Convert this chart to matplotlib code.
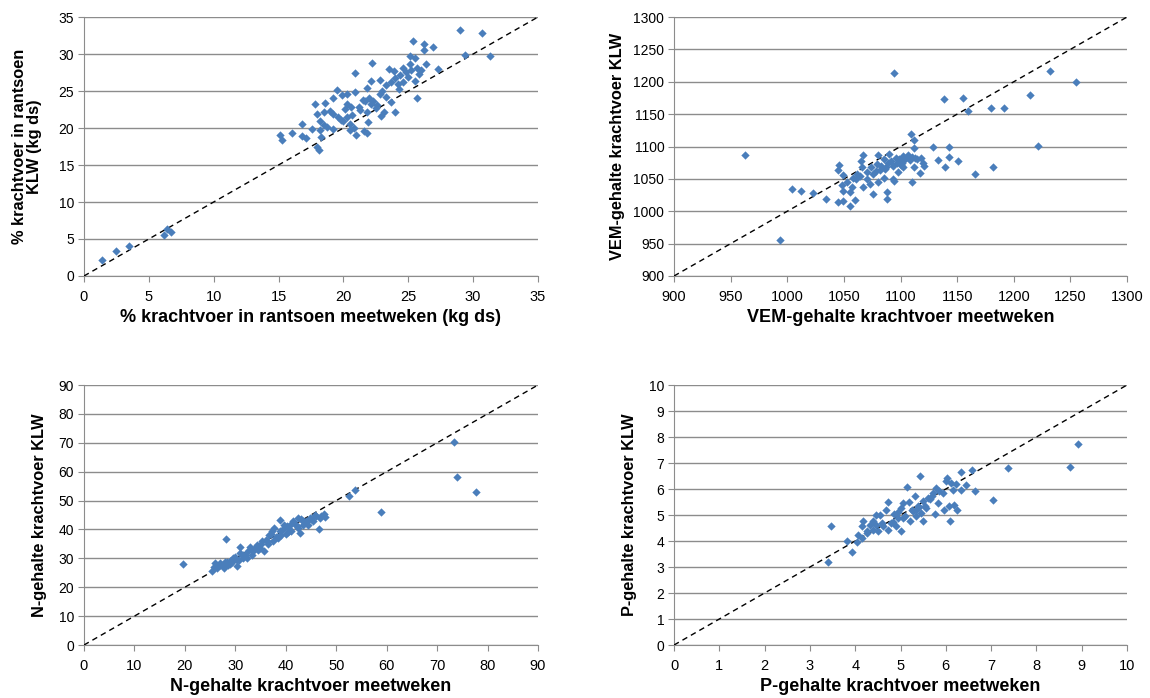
import matplotlib.pyplot as plt

plt.rcParams['font.family'] = ['Liberation Sans', 'DejaVu Sans']

# % krachtvoer in rantsoen (kg ds): meetweken vs KLW
kv_meet = [1.4, 2.5, 3.5, 6.4, 6.2, 6.7, 29.0, 30.7, 29.4, 31.3, 25.4, 26.2, 26.9, 26.2,
           27.3, 26.4, 25.1, 25.5, 25.15, 24.6, 25.7, 25.8, 25.5, 25.0, 24.4, 24.0, 24.3,
           25.7, 23.5, 23.9, 22.2, 20.9, 22.1, 22.8, 21.8, 23.3, 23.7, 22.8, 23.3, 23.7,
           23.1, 22.9, 24.0, 22.3, 22.1, 21.7, 19.5, 19.2, 19.9, 20.3, 20.9, 17.8, 18.6,
           20.3, 20.6, 21.3, 21.8, 17.95, 18.5, 18.2, 19.2, 19.6, 20.0, 20.3, 20.5, 16.8,
           17.6, 18.7, 19.2, 20.5, 20.8, 21.6, 21.8, 21.0, 16.0, 15.1, 15.3, 16.8, 17.1,
           18.3, 17.95, 18.1, 18.2, 18.5, 21.2, 22.6, 21.5, 20.1, 19.8, 22.0, 24.6, 24.8,
           23.0, 20.7, 21.9, 19.0, 22.5, 24.2, 26.0, 25.2]
kv_klw = [2.1, 3.4, 4.1, 6.4, 5.6, 5.9, 33.3, 32.9, 29.9, 29.7, 31.7, 31.3, 30.9, 30.5,
          28.0, 28.7, 29.7, 29.5, 28.7, 28.15, 28.15, 27.3, 26.4, 26.9, 27.1, 26.7, 25.3,
          24.1, 28.0, 27.7, 28.8, 27.4, 26.4, 26.55, 25.45, 25.8, 26.2, 24.6, 24.2, 23.5,
          22.2, 21.6, 22.1, 23.7, 23.3, 23.7, 25.1, 24.1, 24.4, 24.6, 24.9, 23.3, 23.4,
          23.3, 22.8, 22.4, 22.2, 21.9, 22.2, 21.0, 21.9, 21.5, 21.0, 21.5, 20.6, 20.5,
          19.8, 20.1, 19.9, 19.7, 20.05, 19.6, 19.3, 19.0, 19.3, 19.0, 18.4, 18.9, 18.6,
          18.8, 17.5, 17.0, 19.7, 20.4, 22.9, 23.1, 23.8, 22.6, 21.1, 24.0, 26.2, 27.6,
          25.0, 21.8, 20.8, 22.3, 22.7, 26.0, 27.8, 27.9]

# VEM-gehalte krachtvoer
vem_meet = [963, 994, 1094, 1232, 1255, 1214, 1138, 1155, 1160, 1180, 1191, 1221, 1182, 1166,
            1109, 1112, 1129, 1143, 1143, 1151, 1133, 1139, 1121, 1117, 1112, 1113, 1112,
            1118, 1110, 1076, 1088, 1088, 1094, 1060, 1055, 1049, 1045, 1034, 1023, 1012,
            1004, 1046, 1045, 1049, 1048, 1049, 1055, 1057, 1067, 1065, 1066, 1062, 1058,
            1080, 1085, 1090, 1096, 1102, 1107, 1101, 1102, 1098, 1093, 1087, 1082, 1076,
            1070, 1073, 1067, 1061, 1080, 1085, 1079, 1074, 1089, 1093, 1099, 1108, 1110,
            1115, 1120, 1070, 1078, 1083, 1092, 1097, 1104, 1064, 1053, 1086, 1100]
vem_klw = [1087, 955, 1214, 1216, 1200, 1180, 1174, 1175, 1155, 1159, 1159, 1101, 1068, 1057,
           1120, 1110, 1100, 1100, 1084, 1077, 1079, 1068, 1070, 1059, 1097, 1083, 1069,
           1082, 1045, 1027, 1030, 1019, 1046, 1017, 1008, 1016, 1015, 1019, 1028, 1032,
           1034, 1072, 1064, 1056, 1040, 1032, 1029, 1038, 1087, 1078, 1068, 1057, 1052,
           1087, 1081, 1089, 1083, 1086, 1087, 1075, 1068, 1060, 1050, 1068, 1063, 1057,
           1050, 1042, 1037, 1050, 1045, 1052, 1073, 1068, 1075, 1070, 1081, 1079, 1084,
           1081, 1075, 1060, 1062, 1070, 1078, 1074, 1080, 1055, 1045, 1065, 1072]

# N-gehalte krachtvoer
n_meet = [19.6, 73.4, 73.9, 77.8, 58.9, 53.8, 52.5, 28.1, 38.8, 46.5, 47.5, 47.8, 46.8, 45.8,
          44.8, 43.5, 42.5, 41.5, 42.2, 42.9, 40.2, 38.9, 37.6, 36.6, 38.2, 35.3, 34.3,
          35.6, 33.6, 32.6, 31.6, 31.0, 30.3, 29.6, 28.3, 27.0, 26.0, 25.3, 26.3, 27.6,
          30.3, 32.3, 33.3, 37.2, 39.6, 40.9, 44.5, 45.5, 36.2, 34.9, 31.0, 29.3, 28.6,
          41.0, 43.0, 39.5, 36.0, 33.0, 30.0, 27.0, 25.8, 44.0, 46.0, 38.0, 34.0, 29.0,
          37.0, 40.5, 42.0, 31.5, 28.0, 35.0, 26.5, 29.0, 32.0, 34.5, 36.5, 38.5, 41.0,
          43.5, 45.0, 47.0, 39.0, 37.5, 33.5, 30.8, 27.8, 42.5, 44.0, 40.0]
n_klw = [28.1, 70.3, 58.3, 53.1, 46.0, 53.6, 51.5, 36.7, 43.4, 40.3, 45.3, 44.2, 44.0, 45.1,
         44.0, 42.8, 44.0, 42.8, 41.1, 38.8, 41.1, 39.3, 40.5, 38.2, 37.3, 35.9, 34.7,
         32.4, 33.0, 32.4, 31.2, 34.1, 29.5, 30.1, 28.9, 27.8, 28.3, 25.5, 26.6, 27.2,
         27.2, 30.1, 31.2, 39.3, 41.6, 39.9, 41.6, 42.8, 35.9, 33.5, 31.8, 28.9, 27.8,
         42.0, 43.5, 40.0, 36.5, 34.0, 30.5, 28.5, 27.0, 43.0, 44.8, 37.5, 33.5, 29.0,
         38.5, 39.0, 41.5, 30.0, 28.8, 35.0, 27.5, 28.0, 31.0, 33.0, 35.0, 37.0, 39.5,
         41.5, 43.5, 44.5, 38.0, 36.0, 32.5, 29.5, 26.5, 40.5, 42.5, 38.5]

# P-gehalte krachtvoer
p_meet = [3.41, 3.47, 3.92, 3.81, 8.92, 8.74, 7.38, 7.04, 6.58, 6.34, 6.64, 6.45, 6.34, 6.23,
          6.03, 6.12, 5.44, 5.14, 6.09, 6.25, 6.19, 6.08, 5.95, 5.77, 5.94, 5.79, 5.72,
          5.83, 5.61, 5.50, 5.39, 5.46, 5.50, 5.35, 5.20, 5.19, 5.06, 5.02, 5.02, 4.91,
          4.83, 4.72, 4.69, 4.54, 4.47, 4.39, 4.32, 4.17, 4.14, 4.25, 4.14, 4.03, 4.06,
          4.39, 4.50, 4.61, 4.72, 4.80, 5.06, 5.28, 5.31, 5.57, 5.86, 6.00, 4.95, 5.25,
          5.65, 4.60, 4.25, 5.40, 4.85, 5.10, 5.35, 5.70, 6.15, 4.45, 4.95, 5.55]
p_klw = [3.21, 4.59, 3.59, 4.01, 7.75, 6.86, 6.81, 5.59, 6.74, 6.66, 5.94, 6.17, 5.98, 6.20,
         6.43, 6.23, 6.50, 6.08, 4.78, 5.19, 5.37, 5.33, 5.19, 5.04, 5.85, 6.04, 5.85,
         5.46, 5.66, 5.53, 5.33, 5.08, 4.78, 4.95, 4.76, 5.50, 5.46, 5.27, 4.37, 4.56,
         4.73, 5.50, 5.21, 5.01, 5.01, 4.76, 4.63, 4.76, 4.56, 4.37, 4.11, 3.98, 4.24,
         4.43, 4.37, 4.56, 4.43, 4.69, 4.88, 5.14, 5.72, 5.27, 5.91, 6.30, 4.90, 5.20,
         5.60, 4.70, 4.30, 5.30, 5.05, 4.95, 5.20, 5.75, 5.95, 4.60, 5.10, 5.35]

# data, axis range, x label, y label, axes box, y label x-position
panels = [
    (kv_meet, kv_klw, (0, 35, 5), '% krachtvoer in rantsoen meetweken (kg ds)',
     '% krachtvoer in rantsoen\nKLW (kg ds)', [0.0730, 0.6046, 0.3948, 0.371], -0.092),
    (vem_meet, vem_klw, (900, 1300, 50), 'VEM-gehalte krachtvoer meetweken',
     'VEM-gehalte krachtvoer KLW', [0.5861, 0.6046, 0.3939, 0.371], -0.108),
    (n_meet, n_klw, (0, 90, 10), 'N-gehalte krachtvoer meetweken',
     'N-gehalte krachtvoer KLW', [0.0730, 0.0759, 0.3948, 0.3725], -0.081),
    (p_meet, p_klw, (0, 10, 1), 'P-gehalte krachtvoer meetweken',
     'P-gehalte krachtvoer KLW', [0.5861, 0.0759, 0.3939, 0.3725], -0.081),
]

grey = '#8c8c8c'
fig = plt.figure(figsize=(11.5, 6.98), dpi=100)
for xs, ys, (lo, hi, step), xl, yl, pos, ylx in panels:
    ax = fig.add_axes(pos)
    ax.plot([lo, hi], [lo, hi], color='black', lw=1, ls=(0, (4, 3)), zorder=3)
    ax.scatter(xs, ys, marker='D', s=18, color='#4A7EBB', linewidths=0, zorder=4)
    ax.set_xlim(lo, hi); ax.set_ylim(lo, hi)
    ticks = list(range(lo, hi + 1, step))
    ax.set_xticks(ticks); ax.set_yticks(ticks)
    ax.yaxis.grid(True, color=grey, lw=1)
    ax.set_axisbelow(True)
    for s in ['top', 'right']:
        ax.spines[s].set_visible(False)
    for s in ['left', 'bottom']:
        ax.spines[s].set_color(grey)
    ax.tick_params(direction='out', length=4, color=grey, labelcolor='black')
    ax.tick_params(axis='x', pad=6, labelsize=10.5)
    ax.tick_params(axis='y', pad=3, labelsize=10)
    ax.set_xlabel(xl, fontsize=13, fontweight='bold')
    ax.set_ylabel(yl, fontsize=11.8, fontweight='bold', linespacing=1.05)
    ax.xaxis.set_label_coords(0.5, -0.128)
    ax.yaxis.set_label_coords(ylx, 0.5)

fig.savefig('out.png', dpi=100)
